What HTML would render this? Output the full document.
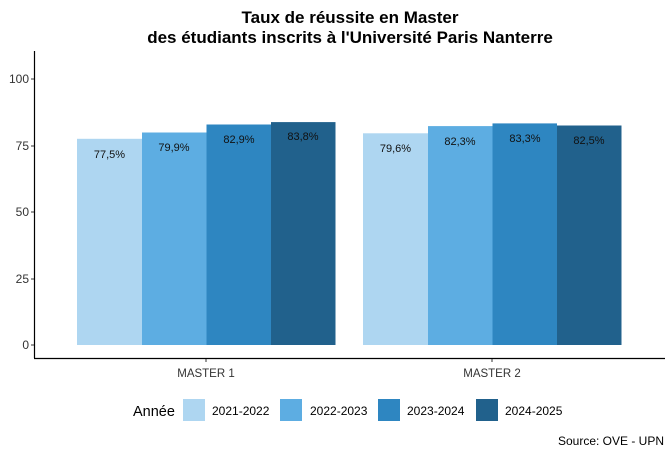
<!DOCTYPE html><html><head><meta charset="utf-8"><style>body{margin:0;background:#fff}</style></head><body>
<svg width="672" height="456" xmlns="http://www.w3.org/2000/svg" font-family="Liberation Sans, sans-serif">
<rect width="672" height="456" fill="#fff"/>
<text x="350" y="23" font-size="17" font-weight="bold" text-anchor="middle">Taux de réussite en Master</text>
<text x="350" y="43" font-size="17" font-weight="bold" text-anchor="middle">des étudiants inscrits à l'Université Paris Nanterre</text>
<line x1="34.5" y1="51" x2="34.5" y2="358" stroke="#000" stroke-width="1.2"/>
<line x1="34" y1="358.5" x2="665" y2="358.5" stroke="#000" stroke-width="1.2"/>
<g font-size="12" fill="#333" text-anchor="end">
<text x="29" y="83">100</text><text x="29" y="150">75</text><text x="29" y="216">50</text><text x="29" y="283">25</text><text x="29" y="349">0</text></g>
<g stroke="#333"><line x1="31" y1="79" x2="34" y2="79"/><line x1="31" y1="146" x2="34" y2="146"/><line x1="31" y1="212" x2="34" y2="212"/><line x1="31" y1="279" x2="34" y2="279"/><line x1="31" y1="345" x2="34" y2="345"/>
<line x1="206" y1="359" x2="206" y2="362"/><line x1="492" y1="359" x2="492" y2="362"/></g>
<g>
<rect x="77" y="138.8" width="65" height="206.2" fill="#AED6F1"/>
<rect x="142" y="132.5" width="64.5" height="212.5" fill="#5DADE2"/>
<rect x="206.5" y="124.5" width="64.5" height="220.5" fill="#2E86C1"/>
<rect x="271" y="122.1" width="64.5" height="222.9" fill="#21618C"/>
<rect x="363" y="133.3" width="65" height="211.7" fill="#AED6F1"/>
<rect x="428" y="126.1" width="64.5" height="218.9" fill="#5DADE2"/>
<rect x="492.5" y="123.4" width="64.5" height="221.6" fill="#2E86C1"/>
<rect x="557" y="125.5" width="64.5" height="219.5" fill="#21618C"/>
</g>
<g font-size="11" fill="#111" text-anchor="middle">
<text x="109.5" y="158">77,5%</text><text x="174" y="151">79,9%</text><text x="239" y="143">82,9%</text><text x="303" y="140">83,8%</text>
<text x="395.5" y="152">79,6%</text><text x="460" y="145">82,3%</text><text x="525" y="142">83,3%</text><text x="589" y="144">82,5%</text>
</g>
<g font-size="11.5" fill="#333" text-anchor="middle"><text x="206" y="377">MASTER 1</text><text x="492" y="377">MASTER 2</text></g>
<text x="133" y="416" font-size="14.5">Année</text>
<rect x="183" y="399" width="22" height="22" fill="#AED6F1"/><text x="212" y="415" font-size="12">2021-2022</text>
<rect x="280" y="399" width="22" height="22" fill="#5DADE2"/><text x="310" y="415" font-size="12">2022-2023</text>
<rect x="378" y="399" width="22" height="22" fill="#2E86C1"/><text x="407" y="415" font-size="12">2023-2024</text>
<rect x="476" y="399" width="22" height="22" fill="#21618C"/><text x="505" y="415" font-size="12">2024-2025</text>
<text x="664" y="445" font-size="12" text-anchor="end">Source: OVE - UPN</text>
</svg></body></html>
